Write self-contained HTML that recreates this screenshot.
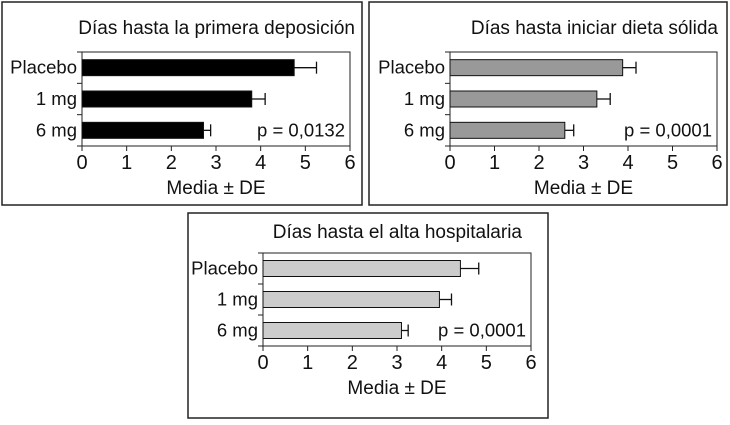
<!DOCTYPE html>
<html><head><meta charset="utf-8"><style>
body{margin:0;background:#fff;width:730px;height:420px;overflow:hidden}
svg text{font-family:"Liberation Sans",sans-serif;fill:#111}
</style></head><body>
<svg id="c" width="730" height="420"></svg>
<script>
const categories=["Placebo","1 mg","6 mg"];
const meansDepos=[4.75,3.8,2.72];
const errDepos=[0.5,0.3,0.16];
const meansDieta=[3.88,3.3,2.58];
const errDieta=[0.3,0.3,0.2];
const meansAlta=[4.42,3.95,3.1];
const errAlta=[0.41,0.27,0.15];
const ticks=[0,1,2,3,4,5,6];
const titles=["Días hasta la primera deposición","Días hasta iniciar dieta sólida","Días hasta el alta hospitalaria"];
const pvals=["p = 0,0132","p = 0,0001","p = 0,0001"];
const NS="http://www.w3.org/2000/svg";
const svg=document.getElementById('c');
function mk(t,a,p){const e=document.createElementNS(NS,t);for(const k in a)e.setAttribute(k,a[k]);(p||svg).appendChild(e);return e;}
function panel(idx,bx,by,bw,bh,px,py,pw,ph,means,errs,fill,pname,titleEnd,titleY){
  const g=mk('g',{});
  
  
  const box=mk('rect',{x:bx,y:by,width:bw,height:bh,fill:'none',stroke:'#222','stroke-width':1.5},g);
  
  const t=mk('text',{x:titleEnd,y:titleY,'text-anchor':'end','font-size':19},g);t.textContent=titles[idx];
  
  const xs=v=>px+v/6*pw;
  const fr=mk('rect',{x:px,y:py,width:pw,height:ph,fill:'none',stroke:'#222','stroke-width':1},g);
  
  const band=ph/3;
  for(let i=0;i<=3;i++){mk('line',{x1:px-5,x2:px,y1:py+i*band,y2:py+i*band,stroke:'#222'},g);}
  ticks.forEach(v=>{
    mk('line',{x1:xs(v),x2:xs(v),y1:py+ph,y2:py+ph+5,stroke:'#222'},g);
    const tl=mk('text',{x:xs(v),y:py+ph+23,'text-anchor':'middle','font-size':20},g);tl.textContent=v;
    
  });
  const at=mk('text',{x:px+pw/2,y:py+ph+48,'text-anchor':'middle','font-size':19},g);at.textContent="Media ± DE";
  
  categories.forEach((c,i)=>{
    const cy=py+band*i+band/2;
    const b=mk('rect',{x:px,y:cy-8,width:xs(means[i])-px,height:16,fill:fill,stroke:'#111','stroke-width':1},g);
    
    const e=xs(means[i]+errs[i]);
    mk('line',{x1:xs(means[i]),x2:e,y1:cy,y2:cy,stroke:'#111','stroke-width':1.3},g);
    mk('line',{x1:e,x2:e,y1:cy-6,y2:cy+6,stroke:'#111','stroke-width':1.3},g);
    const l=mk('text',{x:px-5,y:cy+6,'text-anchor':'end','font-size':18.5},g);l.textContent=c;
    
  });
  const p=mk('text',{x:px+pw-5,y:py+band*2.5+6,'text-anchor':'end','font-size':18.5},g);p.textContent=pvals[idx];
  
}
panel(0,2,2,360,203,82,52,268,94,meansDepos,errDepos,'#000','panel-primera-deposicion',355,34);
panel(1,369,2,358,203,450,52,267,94,meansDieta,errDieta,'#999','panel-dieta-solida',718,34);
panel(2,188,213,360,205,263,253,268,93,meansAlta,errAlta,'#ccc','panel-alta-hospitalaria',522,238);
</script>
</body></html>
